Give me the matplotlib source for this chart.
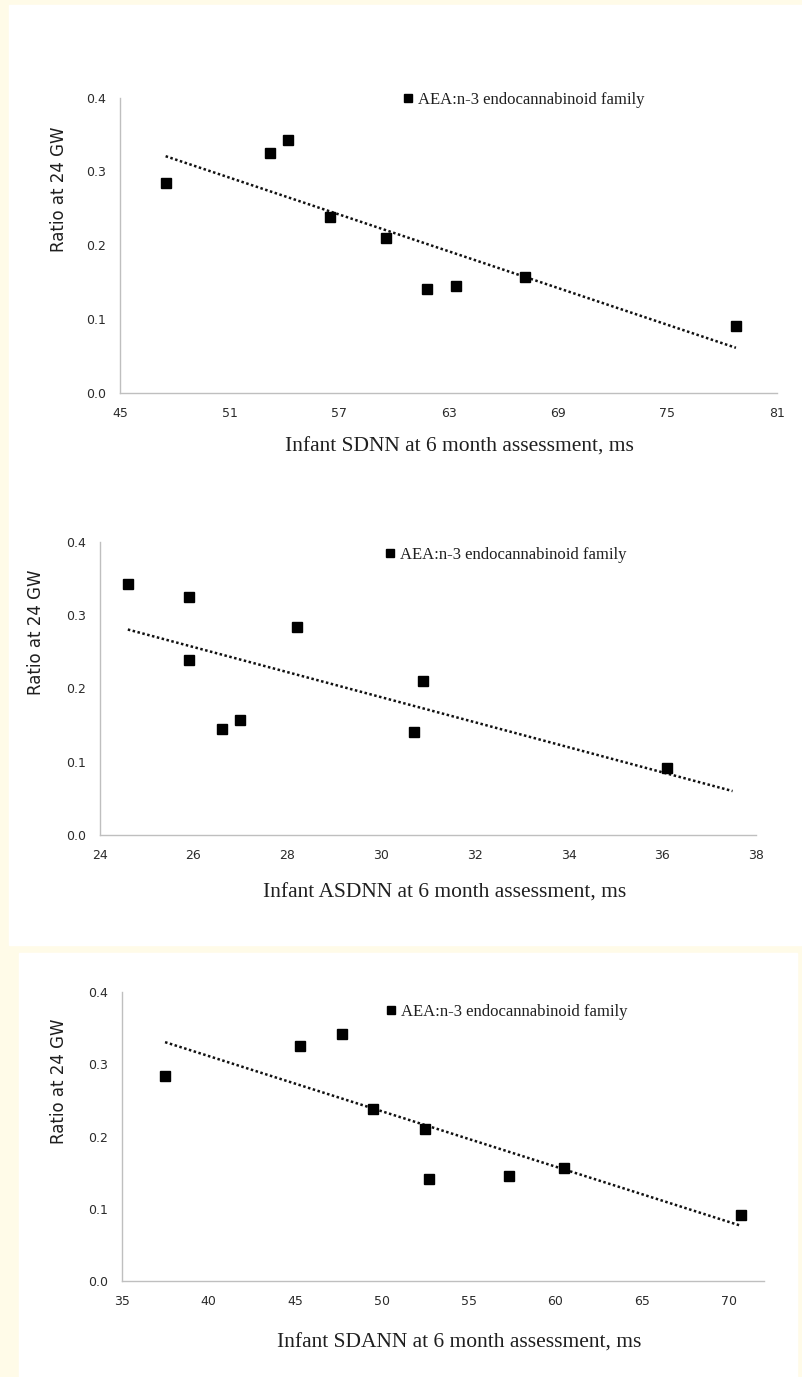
import matplotlib
matplotlib.use("Agg")
import matplotlib.pyplot as plt
from matplotlib.patches import Rectangle
import numpy as np

# ratio AEA:n-3 at 24 GW, one value per infant
ratio = [0.284, 0.325, 0.342, 0.238, 0.210, 0.141, 0.145, 0.157, 0.091]

# infant HRV measures at 6 months (same infant order as ratio)
sdnn = [47.5, 53.2, 54.2, 56.5, 59.6, 61.8, 63.4, 67.2, 78.75]
asdnn = [28.2, 25.9, 24.6, 25.9, 30.9, 30.7, 26.6, 27.0, 36.1]
sdann = [37.5, 45.3, 47.7, 49.5, 52.5, 52.7, 57.3, 60.5, 70.7]

xlabels = ["Infant SDNN at 6 month assessment, ms",
           "Infant ASDNN at 6 month assessment, ms",
           "Infant SDANN at 6 month assessment, ms"]
xticks = [[45, 51, 57, 63, 69, 75, 81],
          [24, 26, 28, 30, 32, 34, 36, 38],
          [35, 40, 45, 50, 55, 60, 65, 70]]
xlims = [(45, 81), (24, 38), (35, 72)]
trend_end = [None, 37.5, None]  # panel 2 trendline runs past the last point
yticks = [0.0, 0.1, 0.2, 0.3, 0.4]
legend_label = "AEA:n-3 endocannabinoid family"

W, H = 802, 1377
fig = plt.figure(figsize=(W / 100, H / 100), dpi=100)
fig.patch.set_facecolor("#fffbe8")

# white panels behind the charts
fig.patches.append(Rectangle((9 / W, 1 - 945 / H), (W - 9) / W, 940 / H,
                             transform=fig.transFigure, color="white", zorder=-5))
fig.patches.append(Rectangle((19 / W, 0), 778 / W, 1 - 953 / H,
                             transform=fig.transFigure, color="white", zorder=-5))

# plot areas in pixels: left, right, top, bottom
boxes = [(120, 777, 97.7, 392.7), (99.7, 756, 541.7, 835), (121.7, 763.5, 992.3, 1280.7)]
leg_pos = [(0.431, 0.992), (0.435, 0.955), (0.412, 0.932)]
xlab_pos = [(0.516, -0.184), (0.526, -0.198), (0.526, -0.216)]
ylab_x = [-0.093, -0.097, -0.098]

serif = ["Liberation Serif", "DejaVu Serif"]
txt_col = "#1f1f1f"

for i, xs in enumerate([sdnn, asdnn, sdann]):
    l, r, t, b = boxes[i]
    ax = fig.add_axes([l / W, 1 - b / H, (r - l) / W, (b - t) / H])
    ax.set_facecolor("none")

    ax.plot(xs, ratio, "s", color="black", markersize=7.3, label=legend_label, zorder=3)

    k, c = np.polyfit(xs, ratio, 1)
    x0 = min(xs)
    x1 = trend_end[i] if trend_end[i] is not None else max(xs)
    tx = np.array([x0, x1])
    ax.plot(tx, k * tx + c, color="#111111", linestyle=(0, (1, 1)), linewidth=1.8, zorder=2)

    ax.set_xlim(*xlims[i])
    ax.set_ylim(0, 0.4)
    ax.set_xticks(xticks[i])
    ax.set_yticks(yticks)
    ax.set_yticklabels([f"{v:.1f}" for v in yticks])
    ax.tick_params(length=0, labelsize=9, colors="#2b2b2b", pad=10)

    for s in ["top", "right"]:
        ax.spines[s].set_visible(False)
    for s in ["left", "bottom"]:
        ax.spines[s].set_color("#bfbfbf")
        ax.spines[s].set_linewidth(1)

    ax.set_xlabel(xlabels[i], family=serif, fontsize=15.5, color=txt_col)
    ax.xaxis.set_label_coords(*xlab_pos[i])
    ax.xaxis.label.set_va("center")

    ax.set_ylabel("Ratio at 24 GW", fontsize=12, color=txt_col)
    ax.yaxis.set_label_coords(ylab_x[i], 0.69)
    ax.yaxis.label.set_va("center")

    leg = ax.legend(loc="center left", bbox_to_anchor=leg_pos[i], frameon=False,
                    borderpad=0, borderaxespad=0, handlelength=0.6, handletextpad=0.3,
                    markerscale=0.72, prop={"family": serif, "size": 12})
    for tx_ in leg.get_texts():
        tx_.set_color(txt_col)

fig.savefig("out.png", dpi=100, facecolor=fig.get_facecolor())
